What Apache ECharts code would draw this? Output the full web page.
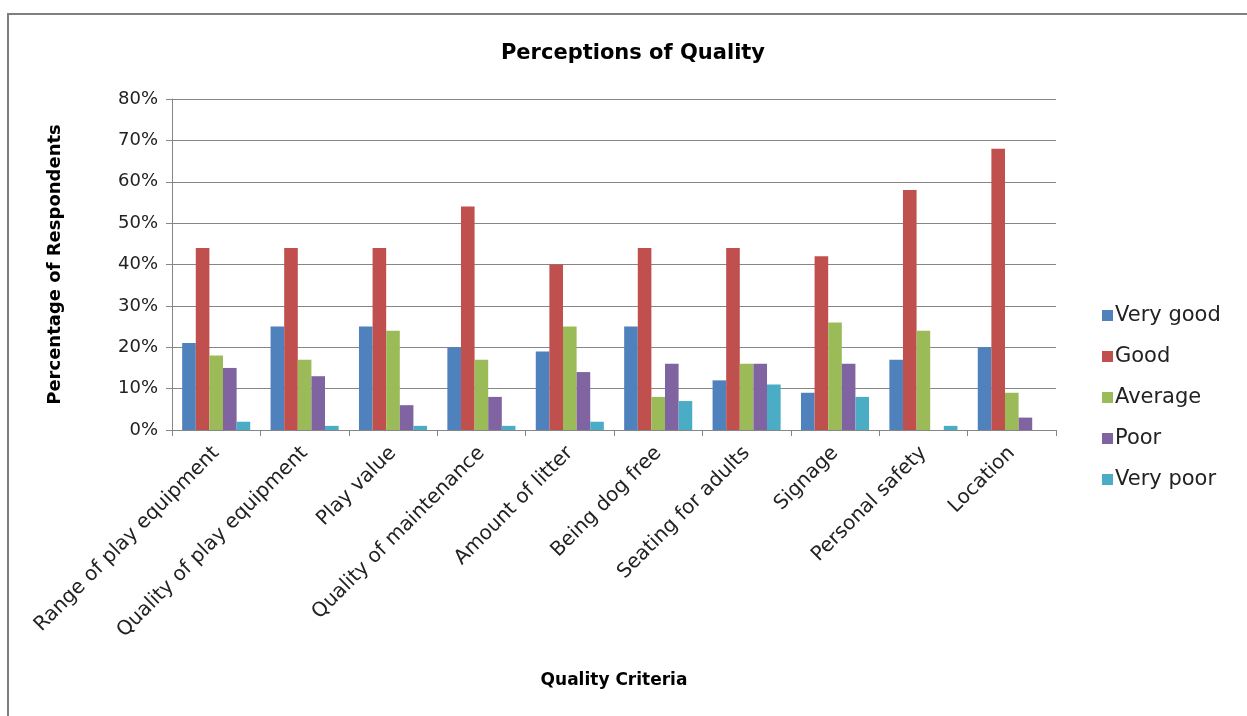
<!DOCTYPE html>
<html>
<head>
<meta charset="utf-8">
<script src="https://cdn.jsdelivr.net/npm/echarts@6/dist/echarts.min.js"></script>
<style>
  html, body { margin: 0; padding: 0; background: #fff; }
  #chart { width: 1247px; height: 716px; }
</style>
</head>
<body>
<div id="chart"></div>
<script>
// Survey categories (x axis)
const categories = [
  'Range of play equipment', 'Quality of play equipment', 'Play value',
  'Quality of maintenance', 'Amount of litter', 'Being dog free',
  'Seating for adults', 'Signage', 'Personal safety', 'Location'
];

// Percentage of respondents per rating
const veryGood = [21, 25, 25, 20, 19, 25, 12, 9, 17, 20];
const good     = [44, 44, 44, 54, 40, 44, 44, 42, 58, 68];
const average  = [18, 17, 24, 17, 25, 8, 16, 26, 24, 9];
const poor     = [15, 13, 6, 8, 14, 16, 16, 16, 0, 3];
const veryPoor = [2, 1, 1, 1, 2, 7, 11, 8, 1, 0];

const seriesNames = ['Very good', 'Good', 'Average', 'Poor', 'Very poor'];
const seriesData = [veryGood, good, average, poor, veryPoor];
const colors = ['#4F81BD', '#C0504D', '#9BBB59', '#8064A2', '#4BACC6'];

const font = '"Century Gothic", "DejaVu Sans", "Open Sans", sans-serif';

const chart = echarts.init(document.getElementById('chart'), null, { renderer: 'canvas' });

chart.setOption({
  backgroundColor: '#fff',
  animation: false,
  color: colors,
  textStyle: { fontFamily: font },
  title: {
    text: 'Perceptions of Quality',
    left: 628, top: 38, textAlign: 'center',
    textStyle: { fontSize: 21, fontWeight: 'bold', color: '#000', fontFamily: font }
  },
  graphic: [{
    type: 'polyline',
    shape: { points: [[8, 730], [8, 14], [1260, 14]] },
    style: { stroke: '#7f7f7f', lineWidth: 2, fill: null },
    silent: true
  }],
  legend: {
    orient: 'vertical',
    left: 1097, top: 300,
    itemWidth: 11, itemHeight: 11, itemGap: 20,
    icon: 'rect',
    textStyle: { fontSize: 21, color: '#222', fontFamily: font, padding: [0, 0, 0, -3] },
    data: seriesNames
  },
  grid: { left: 172, right: 191, top: 99, bottom: 286, containLabel: false },
  xAxis: {
    type: 'category',
    data: categories,
    name: 'Quality Criteria',
    nameLocation: 'middle',
    nameGap: 242,
    nameTextStyle: { fontSize: 17, fontWeight: 'bold', color: '#000', fontFamily: font },
    axisLine: { lineStyle: { color: '#868686', width: 1 } },
    axisTick: { show: true, alignWithLabel: false, length: 6, lineStyle: { color: '#868686' } },
    axisLabel: { rotate: 45, fontSize: 20, color: '#222', margin: 20, interval: 0, fontFamily: font }
  },
  yAxis: {
    type: 'value',
    min: 0, max: 80, interval: 10,
    name: 'Percentage of Respondents',
    nameLocation: 'middle',
    nameGap: 108,
    nameRotate: 90,
    nameTextStyle: { fontSize: 18, fontWeight: 'bold', color: '#000', fontFamily: font },
    axisLine: { show: true, lineStyle: { color: '#868686' } },
    axisTick: { show: true, inside: false, length: 6, lineStyle: { color: '#868686' } },
    axisLabel: { formatter: '{value}%', fontSize: 18, color: '#222', margin: 14, fontFamily: font },
    splitLine: { lineStyle: { color: '#868686', width: 1 } }
  },
  series: seriesNames.map((name, i) => ({
    name: name,
    type: 'bar',
    data: seriesData[i],
    barGap: '0%',
    barCategoryGap: '23%',
    itemStyle: { color: colors[i] }
  }))
});
</script>
</body>
</html>
